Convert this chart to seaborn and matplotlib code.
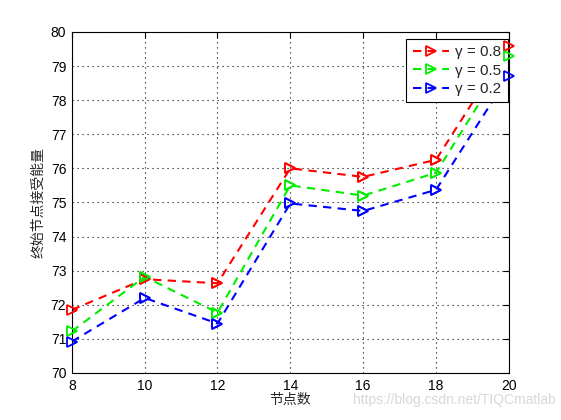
import numpy as np
import pandas as pd
import matplotlib
matplotlib.use('Agg')
import matplotlib.pyplot as plt
import seaborn as sns

# Data
nodes = [8, 10, 12, 14, 16, 18, 20]
energy_08 = [71.85, 72.75, 72.63, 76.0, 75.75, 76.25, 79.6]
energy_05 = [71.22, 72.82, 71.77, 75.5, 75.2, 75.87, 79.3]
energy_02 = [70.92, 72.2, 71.45, 74.97, 74.75, 75.37, 78.72]
series_labels = ['γ = 0.8', 'γ = 0.5', 'γ = 0.2']
series_colors = ['#ff0000', '#00ee00', '#0000ff']

sns.set_style('white')
plt.rcParams['font.family'] = ['Liberation Sans', 'Noto Sans CJK SC', 'DejaVu Sans']

fig = plt.figure(figsize=(5.61, 4.2), dpi=100)
ax = fig.add_axes([0.128, 0.112, 0.779, 0.812])

marker_kw = dict(marker='>', markersize=7, markeredgewidth=1.3, markerfacecolor='none')

for vals, lab, col in zip([energy_08, energy_05, energy_02], series_labels, series_colors):
    sns.lineplot(x=nodes, y=vals, ax=ax, color=col, label=lab,
                 linestyle='--', linewidth=1.5, markeredgecolor=col,
                 dashes=False, **marker_kw)
    ax.lines[-1].set_linestyle((0, (4, 3)))
    # markers again on top (MATLAB draws them unclipped, above the legend box)
    sns.lineplot(x=nodes, y=vals, ax=ax, color=col, linestyle='none',
                 markeredgecolor=col, zorder=6, clip_on=False, legend=False,
                 **marker_kw)

ax.set_xlim(8, 20)
ax.set_ylim(70, 80)
ax.set_xticks(np.arange(8, 21, 2))
ax.set_yticks(np.arange(70, 81, 1))
ax.grid(True, linestyle=(0, (1, 3.5)), color='black', linewidth=0.8)
for s in ax.spines.values():
    s.set_color('black')
    s.set_linewidth(0.8)
ax.tick_params(direction='in', top=True, right=True, length=4, width=0.8,
               labelsize=10, colors='black', pad=4)

ax.set_xlabel('节点数', family=['Noto Sans CJK SC'], fontsize=10, labelpad=0)
ax.set_ylabel('终始节点接受能量', family=['Noto Sans CJK SC'], fontsize=10, labelpad=4)

handles, labels = ax.get_legend_handles_labels()
leg = ax.legend(handles[:3], labels[:3], loc='upper right', bbox_to_anchor=(0.997, 0.979),
                fancybox=False, framealpha=1, edgecolor='black', fontsize=11,
                handlelength=2.4, borderaxespad=0, borderpad=0.4, labelspacing=0.3,
                handletextpad=0.4)
leg.get_frame().set_linewidth(0.8)

fig.text(0.99, 0.03, 'https://blog.csdn.net/TIQCmatlab', ha='right', va='bottom',
         fontsize=10, color='#d8d8d8')

fig.savefig('out.png', dpi=100, facecolor='white')
